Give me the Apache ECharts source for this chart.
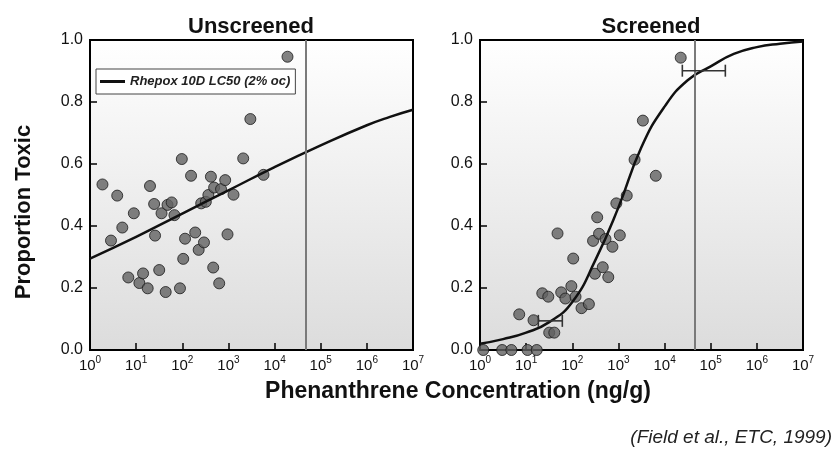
<!DOCTYPE html>
<html>
<head>
<meta charset="utf-8">
<script src="https://cdn.jsdelivr.net/npm/echarts@6/dist/echarts.min.js"></script>
<style>html,body{margin:0;padding:0;background:#fff}#c{width:834px;height:450px}</style>
</head>
<body>
<div id="c"></div>
<script>
// ---- data (concentrations as log10 exponents) ----
const unscreenedLogConc = [0.27,0.455,0.59,0.70,0.83,0.95,1.07,1.15,1.25,1.30,1.39,1.41,1.50,1.55,1.64,1.68,1.77,1.83,1.95,1.99,2.02,2.06,2.19,2.28,2.355,2.41,2.47,2.51,2.565,2.62,2.67,2.69,2.80,2.84,2.93,2.98,3.11,3.32,3.475,3.76,4.28];
const unscreenedProp    = [0.534,0.353,0.498,0.395,0.234,0.441,0.216,0.247,0.199,0.529,0.471,0.369,0.258,0.441,0.187,0.468,0.476,0.435,0.199,0.616,0.294,0.359,0.562,0.379,0.323,0.473,0.347,0.478,0.500,0.559,0.266,0.524,0.215,0.519,0.548,0.373,0.501,0.618,0.745,0.565,0.946];

const screenedLogConc = [0.07,0.48,0.68,1.03,1.23,0.85,1.16,1.35,1.48,1.50,1.61,1.68,1.76,1.85,1.98,2.02,2.07,2.20,2.36,2.45,2.49,2.54,2.58,2.66,2.72,2.78,2.87,2.955,3.03,3.18,3.35,3.53,3.81,4.35];
const screenedProp    = [0,0,0,0,0,0.115,0.096,0.183,0.172,0.056,0.056,0.376,0.186,0.166,0.206,0.295,0.172,0.135,0.148,0.352,0.246,0.428,0.375,0.267,0.358,0.235,0.333,0.473,0.370,0.498,0.614,0.740,0.562,0.943];

// fitted curves
const unscreenedCurveLog  = [0,1,2,3,4,5,6,6.5,7];
const unscreenedCurveProp = [0.295,0.365,0.44,0.515,0.59,0.66,0.725,0.752,0.775];
const screenedCurveLog  = [0,0.5,1,1.5,2,2.5,3,3.5,4,4.5,5,5.5,6,6.5,7];
const screenedCurveProp = [0.02,0.035,0.056,0.09,0.155,0.29,0.46,0.655,0.785,0.87,0.915,0.955,0.977,0.988,0.995];

// error bars: [low log10, high log10, proportion]
const screenedErrorBars = [[1.264,1.784,0.094],[4.385,5.317,0.901]];

// vertical reference lines (log10 concentration)
const unscreenedRefLog = 4.68;
const screenedRefLog = 4.65;

const xTickExponents = [0,1,2,3,4,5,6,7];
const yTicks = [0,0.2,0.4,0.6,0.8,1.0];

const legendName = 'Rhepox 10D LC50 (2% oc)';
// ---------------------------------------------------------------------

const FF = "'Liberation Sans', Arial, sans-serif";
const pow = e => Math.pow(10, e);
const pts = (xs, ys) => xs.map((x, i) => [pow(x), ys[i]]);

const bg = {type:'linear', x:0, y:0, x2:0, y2:1,
  colorStops:[{offset:0,color:'#ffffff'},{offset:1,color:'#dcdcdc'}]};

function xAxis(gi){
  return {
    type:'log', logBase:10, gridIndex:gi, min:pow(xTickExponents[0]), max:pow(xTickExponents[xTickExponents.length-1]), interval:1,
    axisLine:{show:true, onZero:false, lineStyle:{color:'#000', width:2}},
    axisTick:{show:true, inside:true, length:7, lineStyle:{color:'#000', width:1.5}},
    minorTick:{show:false}, splitLine:{show:false}, minorSplitLine:{show:false},
    axisLabel:{
      margin:5,
      formatter: v => '{b|10}{s|' + Math.round(Math.log10(v)) + '}',
      rich:{
        b:{fontSize:15, fontFamily:FF, color:'#111', lineHeight:18, verticalAlign:'bottom'},
        s:{fontSize:10, fontFamily:FF, color:'#111', lineHeight:10, padding:[0,0,8,0], verticalAlign:'bottom'}
      }
    }
  };
}
function yAxis(gi){
  return {
    type:'value', gridIndex:gi, min:yTicks[0], max:yTicks[yTicks.length-1], interval:0.2,
    axisLine:{show:true, lineStyle:{color:'#000', width:2}},
    axisTick:{show:true, inside:true, length:7, lineStyle:{color:'#000', width:1.5}},
    splitLine:{show:false},
    axisLabel:{margin:7, fontSize:16, fontFamily:FF, color:'#111', formatter: v => v.toFixed(1)}
  };
}
function refLine(logv){
  return {silent:true, symbol:'none', animation:false, label:{show:false},
    lineStyle:{color:'#7a7a7a', width:2, type:'solid'}, data:[{xAxis:pow(logv)}]};
}
const scatterStyle = {color:'#626262', borderColor:'#1a1a1a', borderWidth:1};

const chart = echarts.init(document.getElementById('c'), null, {renderer:'canvas'});
chart.setOption({
  animation:false,
  title:[
    {text:'Unscreened', left:246, top:11, textAlign:'center', textStyle:{fontSize:22, fontWeight:'bold', fontFamily:FF, color:'#111'}},
    {text:'Screened', left:646, top:11, textAlign:'center', textStyle:{fontSize:22, fontWeight:'bold', fontFamily:FF, color:'#111'}}
  ],
  legend:{
    data:[legendName], left:96, top:69, orient:'horizontal',
    padding:[6,5,6,4], itemWidth:25, itemHeight:3, itemGap:5, icon:'rect',
    backgroundColor:'#ffffff', borderColor:'#444', borderWidth:1, borderRadius:0,
    selectedMode:false,
    textStyle:{fontSize:13, fontWeight:'bold', fontStyle:'italic', fontFamily:FF, color:'#222'}
  },
  grid:[
    {left:90, right:421, top:40, bottom:100, show:true, backgroundColor:bg, borderColor:'#000', borderWidth:2},
    {left:480, right:31, top:40, bottom:100, show:true, backgroundColor:bg, borderColor:'#000', borderWidth:2}
  ],
  xAxis:[xAxis(0), xAxis(1)],
  yAxis:[yAxis(0), yAxis(1)],
  graphic:[
    {type:'text', x:24, y:212, rotation:Math.PI/2,
      style:{text:'Proportion Toxic', textAlign:'center', textVerticalAlign:'middle', fontSize:22, fontWeight:'bold', fontFamily:FF, fill:'#111'}},
    {type:'text', x:458, y:392,
      style:{text:'Phenanthrene Concentration (ng/g)', textAlign:'center', textVerticalAlign:'middle', fontSize:23, fontWeight:'bold', fontFamily:FF, fill:'#111'}},
    {type:'text', x:832, y:438,
      style:{text:'(Field et al., ETC, 1999)', textAlign:'right', textVerticalAlign:'middle', fontSize:19, fontStyle:'italic', fontFamily:FF, fill:'#222'}}
  ],
  series:[
    {type:'scatter', name:'unscreened', xAxisIndex:0, yAxisIndex:0, clip:false, z:2,
      symbol:'circle', symbolSize:11, itemStyle:scatterStyle,
      data:pts(unscreenedLogConc, unscreenedProp), markLine:refLine(unscreenedRefLog)},
    {type:'line', name:legendName, xAxisIndex:0, yAxisIndex:0, z:4, smooth:true, showSymbol:false, symbol:'none',
      itemStyle:{color:'#111'}, lineStyle:{color:'#111', width:2.5},
      data:pts(unscreenedCurveLog, unscreenedCurveProp)},
    {type:'scatter', name:'screened', xAxisIndex:1, yAxisIndex:1, clip:false, z:2,
      symbol:'circle', symbolSize:11, itemStyle:scatterStyle,
      data:pts(screenedLogConc, screenedProp), markLine:refLine(screenedRefLog)},
    {type:'line', name:'screened fit', xAxisIndex:1, yAxisIndex:1, z:4, smooth:true, showSymbol:false, symbol:'none',
      lineStyle:{color:'#111', width:2.5},
      data:pts(screenedCurveLog, screenedCurveProp)},
    {type:'custom', name:'error', xAxisIndex:1, yAxisIndex:1, z:5, clip:false,
      encode:{x:[0,1], y:2},
      data:screenedErrorBars.map(d => [pow(d[0]), pow(d[1]), d[2]]),
      renderItem:function(params, api){
        const y = api.value(2);
        const a = api.coord([api.value(0), y]);
        const b = api.coord([api.value(1), y]);
        const h = 6;
        const st = {stroke:'#333', lineWidth:1.6};
        return {type:'group', children:[
          {type:'line', shape:{x1:a[0], y1:a[1], x2:b[0], y2:b[1]}, style:st},
          {type:'line', shape:{x1:a[0], y1:a[1]-h, x2:a[0], y2:a[1]+h}, style:st},
          {type:'line', shape:{x1:b[0], y1:b[1]-h, x2:b[0], y2:b[1]+h}, style:st}
        ]};
      }}
  ]
});
</script>
</body>
</html>
